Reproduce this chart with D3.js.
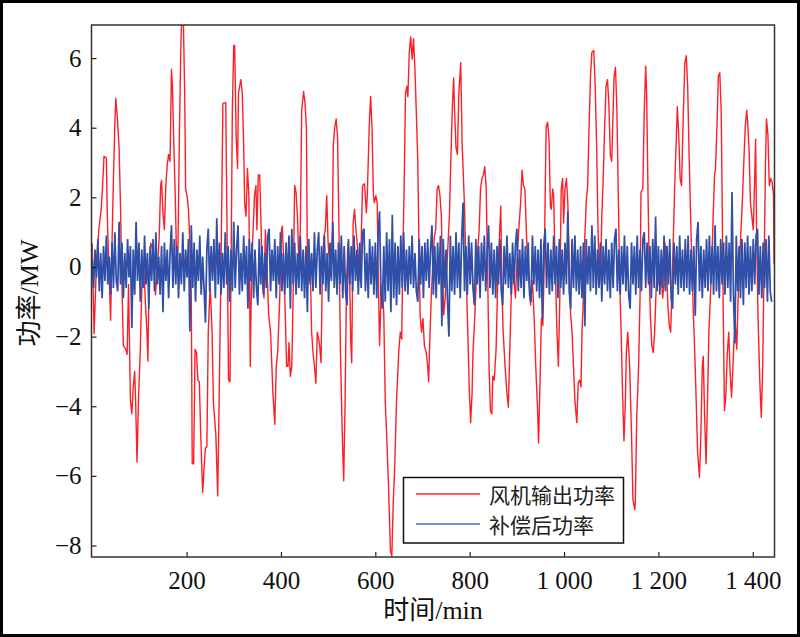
<!DOCTYPE html>
<html><head><meta charset="utf-8">
<script src="https://cdn.jsdelivr.net/npm/d3@7"></script>
<style>body{margin:0;background:#fff}svg{display:block}</style>
</head><body>
<svg id="c" width="800" height="637"></svg>
<script>
// ---- data ----
const seriesNames = ["风机输出功率", "补偿后功率"];
const xTicks = [200, 400, 600, 800, 1000, 1200, 1400];
const yTicks = [-8, -6, -4, -2, 0, 2, 4, 6];

const redTime = [0,4,9,14,19,22,25,30,32,35,39,42,45,48,50,53,57,60,63,66,71,74,77,81,84,87,90,92,95,98,102,105,109,113,116,118,121,124,127,131,134,138,142,145,147,150,153,156,159,162,165,168,170,173,176,179,181,185,188,190,193,196,198,201,204,207,210,212,215,218,221,224,227,230,234,237,240,243,246,250,254,257,262,266,269,273,277,283,289,292,295,297,300,302,305,308,310,315,318,321,323,326,329,332,335,338,341,344,347,349,352,355,358,361,364,367,370,374,378,383,387,390,393,397,401,403,406,409,412,415,417,420,423,426,429,432,435,438,441,444,448,451,454,456,459,462,465,468,471,474,477,480,482,485,488,491,494,497,500,503,506,509,511,514,517,520,523,526,530,533,536,539,542,545,548,550,553,556,559,563,568,573,577,581,583,587,590,593,596,598,601,604,606,609,612,615,618,621,624,628,632,635,638,641,645,650,653,656,658,661,664,667,669,672,675,678,681,684,687,690,692,695,698,701,704,708,711,713,716,719,722,725,728,731,734,737,740,742,745,748,752,757,760,763,766,768,771,774,777,781,784,786,789,792,796,799,802,805,807,810,813,816,820,823,826,829,832,835,838,841,844,847,849,852,856,860,863,866,868,871,875,879,882,885,888,891,894,897,900,904,908,911,914,917,920,923,926,929,933,937,940,944,946,949,952,955,958,962,965,968,971,973,976,978,981,985,988,991,994,997,999,1002,1005,1008,1011,1014,1017,1020,1023,1027,1030,1033,1036,1038,1041,1044,1047,1050,1053,1056,1059,1063,1066,1069,1072,1075,1078,1080,1083,1086,1089,1092,1095,1098,1101,1104,1106,1109,1112,1115,1118,1121,1124,1127,1130,1132,1135,1139,1143,1146,1150,1151,1154,1158,1161,1163,1167,1170,1173,1175,1178,1181,1183,1186,1189,1192,1195,1198,1201,1205,1209,1212,1214,1217,1220,1223,1226,1229,1232,1235,1238,1240,1243,1246,1249,1252,1256,1259,1262,1265,1268,1271,1274,1277,1280,1283,1287,1290,1293,1295,1298,1301,1304,1307,1310,1313,1316,1319,1321,1324,1327,1330,1333,1335,1337,1340,1343,1346,1349,1352,1355,1358,1360,1363,1366,1369,1372,1375,1378,1381,1384,1387,1389,1392,1395,1398,1401,1404,1406,1408,1411,1415,1418,1421,1424,1427,1429,1432,1435,1438,1441,1444,1445];
const redPower = [0.68,-1.92,0.1,1.07,1.66,2.34,3.18,3.13,1.46,0.1,-1.53,0.68,2.54,4.1,4.84,4.35,3.42,1.75,-0.5,-2.26,-2.36,-2.51,-0.5,-3.83,-4.22,-3.44,-3.0,-3.83,-5.6,-3.83,-2.36,-0.7,0.09,-1.09,-1.87,-2.7,0.09,0.68,0.58,0.09,-0.8,-0.1,0.87,2.34,2.49,1.56,1.07,2.34,2.93,3.23,3.03,5.68,5.19,3.52,2.05,0.09,-0.2,4.0,6.46,7.2,7.2,4.99,2.24,2.05,1.66,0.68,-0.9,-5.65,-5.65,-2.36,-2.46,-3.25,-3.3,-4.8,-6.48,-5.8,-5.2,-5.16,-1.87,-0.5,-1.87,-3.93,-4.8,-6.58,-3.83,0.09,4.7,4.72,-3.25,-3.3,1.07,4.5,6.36,6.36,3.81,2.83,4.99,5.38,4.99,3.52,1.85,1.46,2.83,2.05,-2.85,0.09,1.07,2.05,2.34,1.07,2.64,2.64,1.07,-0.5,-0.89,1.07,0.09,-1.38,-1.87,-3.64,-4.52,-2.85,-2.46,-1.09,1.07,1.17,0.09,-1.28,-2.85,-2.85,-2.17,-3.14,-2.85,-0.7,2.34,2.15,1.46,0.09,1.07,4.5,5.04,4.7,4.01,0.09,-0.4,0.09,-1.87,-2.46,-2.85,-3.34,-1.87,-2.07,-2.26,-2.75,0.09,0.87,1.07,2.05,0.68,0.09,-0.3,1.07,3.52,4.01,4.25,3.72,1.07,-2.36,-4.81,-6.14,-3.83,-0.4,0.68,0.09,-2.17,-2.75,1.26,1.66,1.07,0.48,-0.4,2.34,2.39,1.56,2.05,4.0,4.9,4.0,2.05,1.85,2.05,1.85,-0.1,-2.26,-0.9,-0.5,-1.38,-3.83,-4.81,-6.28,-8.15,-8.3,-6.77,-5.8,-3.83,-2.36,-1.87,-2.07,0.09,2.24,4.99,5.19,4.89,6.17,6.61,5.97,6.56,5.68,4.4,3.03,1.07,-1.38,-1.87,-1.48,-2.26,-2.46,-2.85,-3.29,-1.87,-0.7,0.09,0.87,1.07,2.24,2.34,2.05,1.46,0.09,-1.38,-0.9,0.09,1.46,3.03,4.5,5.43,4.5,3.42,3.23,4.99,5.87,3.52,2.83,1.75,0.09,-1.87,-3.44,-4.47,-3.64,-2.46,-1.68,-0.7,0.28,1.07,2.24,2.54,2.64,2.88,2.24,-0.1,-2.85,-4.13,-4.22,-3.14,-3.25,-2.36,-0.1,0.87,1.75,-0.5,-1.87,-2.85,-3.64,-4.03,-2.36,-0.89,0.09,-0.4,-0.89,0.09,1.07,1.85,2.78,2.34,2.24,1.07,0.09,-0.5,-1.09,-0.4,-1.58,-2.85,-4.13,-5.06,-3.34,-1.48,-1.68,0.09,4.01,4.16,3.72,1.75,1.66,2.24,2.05,0.09,-1.87,-2.85,-0.89,2.24,2.54,1.26,2.24,2.54,1.85,0.09,-1.38,-1.87,-2.85,-3.83,-4.47,-3.34,-3.25,-3.44,-1.87,-0.89,0.87,1.85,2.34,4.01,5.48,6.17,6.22,5.19,3.52,1.07,-0.5,0.09,1.46,2.54,4.01,5.19,5.38,4.7,3.23,3.03,4.5,5.48,5.73,4.5,2.05,-0.5,-1.87,-3.64,-5.0,-3.83,-2.46,-1.87,-2.85,-4.81,-6.68,-6.97,-6.77,-4.32,-2.85,-0.89,2.15,2.24,4.5,5.77,4.99,2.05,-0.5,-1.38,-2.26,-2.46,-1.87,-0.7,0.09,-0.5,-0.1,-0.89,-0.5,0.68,0.09,-1.09,-1.68,-1.87,-0.5,1.07,2.54,3.72,4.6,3.81,2.54,2.34,4.01,5.87,6.07,5.19,3.23,1.56,0.09,-1.28,-2.46,-3.83,-5.3,-6.04,-4.81,-2.85,-2.56,-4.32,-5.65,-3.83,-1.87,-0.89,0.09,1.46,2.64,2.83,4.01,5.48,5.58,4.5,2.05,-0.89,-4.13,-3.64,-2.46,-1.87,-3.05,-3.74,-2.85,-2.17,-1.58,-2.36,-0.89,0.09,1.07,1.95,3.03,4.01,4.5,4.2,3.42,1.85,1.46,1.07,2.54,3.67,1.07,-1.38,-3.34,-4.32,-2.85,0.09,3.03,4.25,3.81,2.34,2.54,2.44,2.05,0.09];

// compensated power, sampled every 3 min from t = 0
const blueStartMin = 0, blueStepMin = 3;
const bluePower = [
0.2,-0.6,0.5,-0.3,0.8,-0.7,0.4,-0.9,0.6,-0.4,0.9,-0.5,0.3,-0.8,0.7,-0.6,1.0,-0.4,-0.7,1.3,
-0.5,0.7,-0.9,0.4,-0.6,0.8,-0.3,0.6,-1.75,0.5,-0.8,1.3,-0.4,0.7,-1.0,0.5,-0.6,0.9,-0.5,0.4,
-1.2,0.6,-0.4,0.8,-0.7,1.0,-0.5,0.3,-0.8,0.6,-1.3,0.7,-0.4,0.5,-0.9,0.4,1.2,-0.6,0.8,-0.5,
0.6,-0.9,0.4,-0.5,1.0,-0.7,0.5,-0.3,0.8,-1.85,1.2,-0.6,0.7,-1.0,0.5,-0.4,0.9,-0.8,0.3,-0.6,
-1.6,0.5,1.1,-0.7,0.6,-0.4,0.8,-0.9,1.4,-0.5,0.7,-0.8,0.4,-0.6,1.0,-0.5,0.6,-1.0,0.5,-0.7,
1.3,-0.6,0.5,1.2,-0.8,0.4,-0.7,0.9,-0.5,0.6,-1.2,0.8,-0.4,0.7,-0.9,0.5,-0.6,-1.1,0.8,-0.5,
0.6,-0.8,0.4,-0.6,0.9,1.1,-0.7,0.5,-0.4,0.8,-0.9,0.6,-0.5,1.0,-0.7,0.4,-0.8,0.7,-0.6,0.9,
-1.2,1.1,-0.5,0.7,-0.8,0.4,-0.6,0.9,-0.7,0.5,-0.9,0.6,-1.3,0.8,-0.5,0.4,-0.7,1.0,-0.6,0.5,
1.0,-0.8,0.6,-0.5,0.9,-0.7,0.4,-1.0,0.7,-0.4,1.3,-0.6,0.5,-0.8,0.7,-0.5,0.9,-0.9,0.6,-0.7,
-1.1,0.8,-0.5,0.6,-0.7,0.9,-0.4,0.5,-0.8,0.7,-0.6,1.0,1.1,-0.7,0.4,-0.9,0.8,-0.5,0.6,-0.8,
0.7,-0.9,0.9,1.6,-0.8,-1.2,0.6,-1.0,1.0,-0.7,0.8,-1.3,1.5,-0.9,0.7,-1.1,0.6,-0.8,0.9,-0.6,
1.0,-0.7,0.5,-0.8,0.6,-0.5,0.9,-0.6,0.4,-0.7,-1.0,0.8,-0.5,0.6,-0.9,0.7,-0.4,0.8,-0.6,0.5,
1.2,-0.8,0.6,-0.9,0.7,-0.5,0.9,-1.7,0.8,-0.6,0.5,-1.0,-2.0,0.9,-0.7,0.6,-0.8,1.0,-0.6,0.7,
-0.9,0.8,1.85,-0.7,0.6,-0.8,0.9,-0.5,0.7,-0.6,-1.1,0.8,-0.5,0.6,-0.9,0.7,-0.4,0.9,-0.7,0.5,
1.2,-0.6,0.7,-0.8,0.5,-0.9,0.6,-0.5,0.8,-0.7,-1.1,0.6,-0.5,0.9,-0.6,0.4,-0.8,0.7,-0.5,0.6,
1.1,-0.7,0.5,-0.6,0.8,-0.9,0.6,-0.4,0.7,-0.8,-1.0,0.9,-0.5,0.6,-0.7,0.5,-0.9,0.8,-1.5,0.6,
1.1,-0.6,0.7,-0.8,0.5,-0.7,0.9,-0.5,0.6,-0.9,0.8,-0.6,0.5,-0.8,0.7,-0.5,1.6,-0.7,-1.2,0.8,
-0.6,0.9,-0.7,0.5,-0.8,0.6,-0.9,0.7,-1.7,0.8,-0.5,0.6,-0.7,1.2,-0.6,0.9,-0.8,0.5,-0.6,0.7,
-1.0,0.6,-0.5,0.8,-0.7,0.5,-0.9,0.7,-0.6,0.8,1.1,-0.7,0.5,-0.8,0.6,-0.5,0.9,-0.7,0.6,-0.8,
-1.2,0.7,-0.5,0.6,-0.8,0.9,-0.6,0.5,-0.7,0.8,1.0,-0.6,0.7,-0.5,0.6,-0.9,0.8,-0.6,1.45,-0.7,
0.6,-0.8,0.5,-0.6,0.9,-0.7,0.6,-0.5,0.8,-0.9,-1.2,0.7,-0.5,0.6,-0.8,0.9,-0.6,0.5,-0.7,0.8,
-0.6,0.9,-0.8,0.5,-0.7,0.6,-1.4,0.8,1.3,-0.7,0.6,-0.9,0.5,-0.6,0.8,-0.7,0.9,-0.5,0.6,-0.8,
1.2,-0.7,0.6,-0.9,0.8,-0.5,0.7,-0.8,0.9,-0.6,0.7,-1.0,2.15,-0.8,-2.2,0.9,-0.7,0.6,-0.9,0.8,
-1.1,0.7,-0.6,0.9,-0.8,0.6,-0.7,0.8,-0.5,0.9,1.1,-0.8,0.6,-0.9,0.7,-0.6,0.8,-1.0,0.9,-0.7,
-1.0];

// ---- chart ----
const W = 800, H = 637;
const m = {left: 91.5, right: 774.5, top: 25, bottom: 557};
const svg = d3.select("#c");

const x = d3.scaleLinear().domain([-1.5, 1446]).range([m.left, m.right]);
const y = d3.scaleLinear().domain([-8.33, 6.95]).range([m.bottom, m.top]);

const redData = redTime.map((t, i) => [t, redPower[i]]);
const blueData = bluePower.map((v, i) => [blueStartMin + i * blueStepMin, v]);

// outer border
svg.append("rect").attr("x", 1.5).attr("y", 1.5).attr("width", W - 3).attr("height", H - 3)
  .attr("fill", "#fff").attr("stroke", "#000").attr("stroke-width", 3);

svg.append("clipPath").attr("id", "plotclip").append("rect")
  .attr("x", m.left).attr("y", m.top).attr("width", m.right - m.left).attr("height", m.bottom - m.top);

const line = d3.line().x(d => x(d[0])).y(d => y(d[1]));
const g = svg.append("g").attr("clip-path", "url(#plotclip)");
g.append("path").datum(redData).attr("d", line)
  .attr("fill", "none").attr("stroke", "#fb2028").attr("stroke-width", 1.4).attr("stroke-linejoin", "round");
g.append("path").datum(blueData).attr("d", line)
  .attr("fill", "none").attr("stroke", "#2f4fa9").attr("stroke-width", 1.75).attr("stroke-linejoin", "miter");

// axes
const numFont = "'Liberation Serif','Times New Roman',serif";
const fmtX = d => d >= 1000 ? Math.floor(d / 1000) + " " + d3.format("03d")(d % 1000) : String(d);
const xAxis = d3.axisBottom(x).tickValues(xTicks).tickFormat(fmtX).tickSize(-5).tickSizeOuter(0).tickPadding(14);
const yAxis = d3.axisLeft(y).tickValues(yTicks).tickFormat(d3.format("d")).tickSize(-5).tickSizeOuter(0).tickPadding(10);

const gx = svg.append("g").attr("transform", `translate(0,${m.bottom})`).call(xAxis);
const gy = svg.append("g").attr("transform", `translate(${m.left},0)`).call(yAxis);
[gx, gy].forEach(a => {
  a.select(".domain").remove();
  a.selectAll(".tick line").attr("stroke", "#222").attr("stroke-width", 1.2);
  a.selectAll(".tick text").attr("font-family", numFont).attr("font-size", 25).attr("fill", "#111");
});

// frame
svg.append("rect").attr("x", m.left).attr("y", m.top)
  .attr("width", m.right - m.left).attr("height", m.bottom - m.top)
  .attr("fill", "none").attr("stroke", "#333").attr("stroke-width", 1.5);

// axis titles
const titleFont = "'Liberation Serif','Noto Sans CJK SC',serif";
svg.append("text").attr("x", 433).attr("y", 619).attr("text-anchor", "middle")
  .attr("font-family", titleFont).attr("font-size", 26).attr("fill", "#111").text("时间/min");
svg.append("text").attr("transform", "translate(29,293) rotate(-90)").attr("text-anchor", "middle")
  .attr("dominant-baseline", "central")
  .attr("font-family", titleFont).attr("font-size", 26).attr("fill", "#111").text("功率/MW");

// legend
const lg = svg.append("g");
lg.append("rect").attr("x", 403.5).attr("y", 477.5).attr("width", 220).attr("height", 65.5)
  .attr("fill", "#fff").attr("stroke", "#111").attr("stroke-width", 1.5);
const legendColors = ["#ff2a2a", "#4a69bd"];
seriesNames.forEach((name, i) => {
  const yy = 494 + i * 30;
  lg.append("line").attr("x1", 416).attr("x2", 480).attr("y1", yy).attr("y2", yy)
    .attr("stroke", legendColors[i]).attr("stroke-width", 1.5);
  lg.append("text").attr("x", 489).attr("y", yy).attr("dominant-baseline", "central")
    .attr("font-family", "'Noto Sans CJK SC',sans-serif").attr("font-size", 21).attr("fill", "#222").text(name);
});
</script>
</body></html>
